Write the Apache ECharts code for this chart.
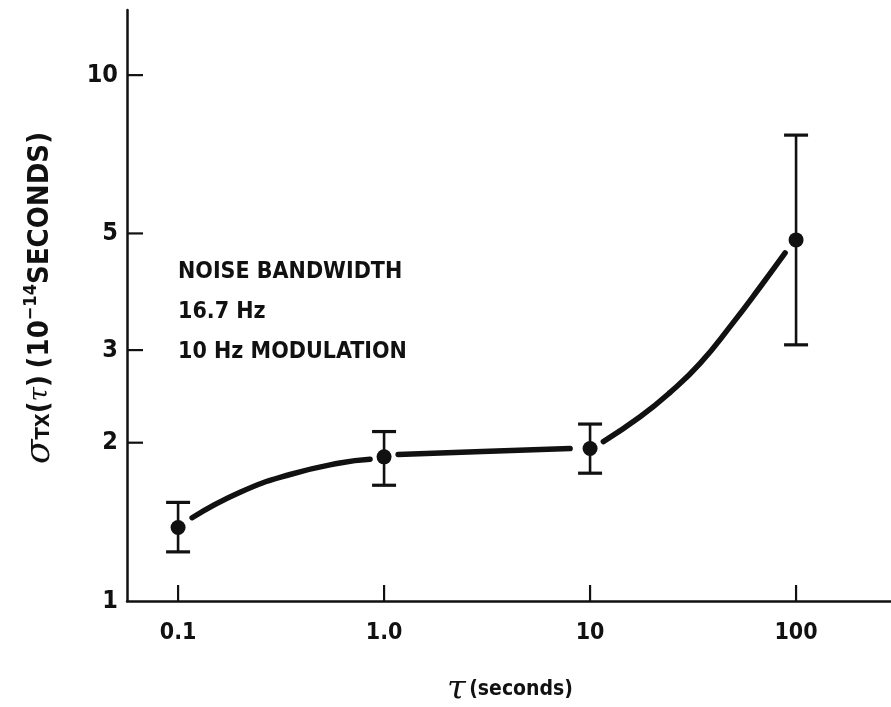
<!DOCTYPE html>
<html>
<head>
<meta charset="utf-8">
<script src="https://cdn.jsdelivr.net/npm/echarts@6/dist/echarts.min.js"></script>
<style>html,body{margin:0;padding:0;background:#fff}#c{width:891px;height:707px}</style>
</head>
<body>
<div id="c"></div>
<script>
// ---- data ----
var tau = [0.1, 1.0, 10, 100];
var sigma = [1.38, 1.88, 1.95, 4.86];
var errLow = [1.24, 1.66, 1.75, 3.07];
var errHigh = [1.54, 2.10, 2.17, 7.69];
// fitted curve, drawn in three pieces with gaps near the points
var curveA = [[0.117, 1.44], [0.2, 1.61], [0.35, 1.74], [0.61, 1.83], [0.855, 1.86]];
var curveB = [[1.17, 1.90], [3.0, 1.925], [8.0, 1.95]];
var curveC = [[11.6, 2.01], [17.5, 2.24], [24.4, 2.49], [34.2, 2.83], [49.4, 3.38], [66.8, 3.95], [88.5, 4.59]];
var xTicks = [0.1, 1, 10, 100];
var xTickLabels = ['0.1', '1.0', '10', '100'];
var yTicks = [1, 2, 3, 5, 10];
var yTickLabels = ['1', '2', '3', '5', '10'];
var noteLines = ['NOISE BANDWIDTH', '16.7 Hz', '10 Hz MODULATION'];

var X_MIN = 0.0565, X_MAX = 289, Y_MIN = 1, Y_MAX = 13.3;
var FONT = '"DejaVu Sans Condensed", "Liberation Sans Narrow", sans-serif';
var INK = '#111';

var chart = echarts.init(document.getElementById('c'));

function seg(x1, y1, x2, y2, w) {
  return { type: 'line', shape: { x1: x1, y1: y1, x2: x2, y2: y2 }, style: { stroke: INK, lineWidth: w } };
}

var option = {
  backgroundColor: '#fff',
  animation: false,
  grid: { left: 127, top: 10, right: 0, bottom: 106 },
  xAxis: {
    type: 'log', min: X_MIN, max: X_MAX,
    axisLine: { show: true, lineStyle: { color: INK, width: 2.5 } },
    axisTick: { show: false }, axisLabel: { show: false }, splitLine: { show: false }
  },
  yAxis: {
    type: 'log', min: Y_MIN, max: Y_MAX,
    axisLine: { show: true, lineStyle: { color: INK, width: 2.5 } },
    axisTick: { show: false }, axisLabel: { show: false }, splitLine: { show: false }
  },
  graphic: [
    {
      type: 'group', left: 178, top: 261,
      children: noteLines.map(function (t, i) {
        return { type: 'text', x: 0, y: i * 40, style: { text: t, font: 'bold 23px ' + FONT, fill: INK } };
      })
    },
    {
      type: 'text', x: 40, y: 298, rotation: Math.PI / 2,
      style: {
        text: '{s|σ}{sub|TX}{n|(}{t|τ}{n|)}  {n|(10}{sup|−14}{n|SECONDS)}',
        align: 'center', verticalAlign: 'middle',
        rich: {
          s: { font: 'italic 36px "DejaVu Serif", serif', fill: INK },
          sub: { font: 'bold 20px ' + FONT, fill: INK, padding: [8, 0, 0, 0] },
          n: { font: 'bold 29px ' + FONT, fill: INK },
          t: { font: 'italic 26px "DejaVu Serif", serif', fill: INK },
          sup: { font: 'bold 18px ' + FONT, fill: INK, verticalAlign: 'top', padding: [0, 0, 14, 0] }
        }
      }
    },
    {
      type: 'text', x: 510, y: 690,
      style: {
        text: '{t|τ} {n|(seconds)}',
        align: 'center', verticalAlign: 'middle',
        rich: {
          t: { font: 'italic 34px "DejaVu Serif", serif', fill: INK },
          n: { font: 'bold 21px ' + FONT, fill: INK }
        }
      }
    }
  ],
  series: [
    {
      type: 'custom', name: 'xticks', silent: true,
      data: xTicks.map(function (v, i) { return [v, i]; }),
      renderItem: function (params, api) {
        var p = api.coord([api.value(0), Y_MIN]);
        return {
          type: 'group', children: [
            seg(p[0], p[1], p[0], p[1] - 16, 2.2),
            { type: 'text', x: p[0], y: p[1] + 32,
              style: { text: xTickLabels[api.value(1)], font: 'bold 23px ' + FONT, fill: INK, align: 'center', verticalAlign: 'middle' } }
          ]
        };
      }
    },
    {
      type: 'custom', name: 'yticks', silent: true,
      data: yTicks.map(function (v, i) { return [X_MIN, v, i]; }),
      renderItem: function (params, api) {
        var p = api.coord([X_MIN, api.value(1)]);
        var kids = [];
        if (api.value(1) !== Y_MIN) kids.push(seg(p[0], p[1], p[0] + 16, p[1], 2.2));
        kids.push({ type: 'text', x: p[0] - 9, y: p[1],
          style: { text: yTickLabels[api.value(2)], font: 'bold 25px ' + FONT, fill: INK, align: 'right', verticalAlign: 'middle' } });
        return { type: 'group', children: kids };
      }
    },
    {
      type: 'custom', name: 'errors', silent: true,
      data: tau.map(function (t, i) { return [t, errLow[i], errHigh[i]]; }),
      renderItem: function (params, api) {
        var lo = api.coord([api.value(0), api.value(1)]);
        var hi = api.coord([api.value(0), api.value(2)]);
        var hw = 12;
        return {
          type: 'group', children: [
            seg(lo[0], lo[1], hi[0], hi[1], 2.6),
            seg(hi[0] - hw, hi[1], hi[0] + hw, hi[1], 3.2),
            seg(lo[0] - hw, lo[1], lo[0] + hw, lo[1], 3.2)
          ]
        };
      }
    },
    { type: 'line', data: curveA, smooth: true, showSymbol: false, silent: true,
      lineStyle: { color: INK, width: 5.5, cap: 'round' } },
    { type: 'line', data: curveB, smooth: true, showSymbol: false, silent: true,
      lineStyle: { color: INK, width: 5.5, cap: 'round' } },
    { type: 'line', data: curveC, smooth: true, showSymbol: false, silent: true,
      lineStyle: { color: INK, width: 5.5, cap: 'round' } },
    { type: 'scatter', data: tau.map(function (t, i) { return [t, sigma[i]]; }),
      symbol: 'circle', symbolSize: 15, itemStyle: { color: INK, opacity: 1 }, silent: true }
  ]
};
chart.setOption(option);
</script>
</body>
</html>
